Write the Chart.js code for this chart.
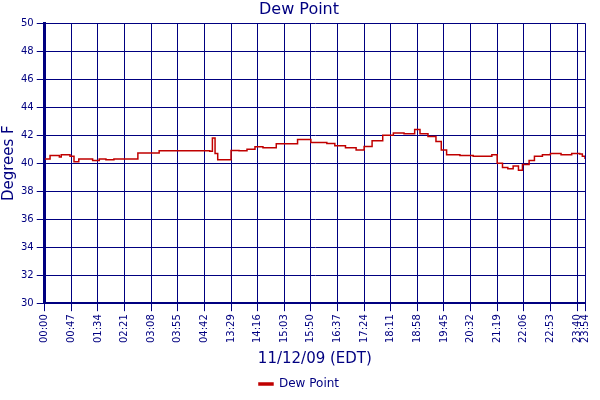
<!DOCTYPE html>
<html><head><meta charset="utf-8">
<script src="https://cdn.jsdelivr.net/npm/chart.js@4"></script>
<style>html,body{margin:0;background:#fff}</style>
</head><body><canvas id="c" width="600" height="400"></canvas>
<script>
const tickLabels=["00:00","00:47","01:34","02:21","03:08","03:55","04:42","13:29","14:16","15:03","15:50","16:37","17:24","18:11","18:58","19:45","20:32","21:19","22:06","22:53","23:40","23:54"];
const tickPos=[0,1,2,3,4,5,6,7,8,9,10,11,12,13,14,15,16,17,18,19,20,20.3];
// x positions in tick-interval units, dew point values in °F
const xPos=[0,0.2,0.55,0.62,0.95,1.1,1.28,1.8,2.05,2.3,2.6,3.5,3.7,4.3,4.6,5.1,6.2,6.3,6.4,6.5,6.9,7.0,7.3,7.6,7.9,8.2,8.7,9.0,9.5,10.0,10.2,10.6,10.9,11.3,11.7,12.0,12.3,12.7,13.1,13.5,13.9,14.1,14.4,14.7,14.9,15.1,15.3,15.6,16.1,16.5,16.8,17.0,17.2,17.4,17.6,17.8,17.95,18.2,18.4,18.7,19.0,19.4,19.8,20.1,20.2,20.3];
const dew=[40.3,40.55,40.45,40.6,40.5,40.1,40.3,40.2,40.3,40.25,40.3,40.72,40.72,40.88,40.88,40.88,40.85,41.8,40.7,40.25,40.25,40.9,40.88,41.0,41.18,41.1,41.38,41.38,41.7,41.47,41.47,41.4,41.25,41.1,40.95,41.2,41.6,42.0,42.15,42.1,42.4,42.1,41.9,41.55,40.95,40.6,40.6,40.55,40.5,40.5,40.6,40.0,39.7,39.6,39.8,39.5,39.9,40.2,40.5,40.6,40.7,40.6,40.7,40.65,40.5,40.3];
new Chart(document.getElementById('c'),{
type:'line',
data:{datasets:[{label:'Dew Point',data:xPos.map((x,i)=>({x,y:dew[i]})),borderColor:'#c00000',backgroundColor:'#c00000',borderWidth:1.5,pointRadius:0,stepped:true}]},
options:{responsive:false,animation:false,
layout:{padding:{right:2}},
plugins:{title:{display:true,text:'Dew Point',color:'#000080',font:{family:'DejaVu Sans',size:16,weight:'normal'},padding:{top:0,bottom:4}},
legend:{position:'bottom',labels:{color:'#000080',font:{family:'DejaVu Sans',size:12},boxWidth:14,boxHeight:2}}},
scales:{
x:{type:'linear',min:0,max:20.3,
afterBuildTicks:a=>{a.ticks=tickPos.map(v=>({value:v}));},
ticks:{autoSkip:false,maxRotation:90,minRotation:90,color:'#000080',font:{family:'DejaVu Sans',size:10},callback:(v,i)=>tickLabels[i]},
grid:{color:'#000080',lineWidth:1},border:{color:'#000080',width:2},
title:{display:true,text:'11/12/09 (EDT)',color:'#000080',font:{family:'DejaVu Sans',size:15},padding:{top:4,bottom:0}}},
y:{min:30,max:50,ticks:{stepSize:2,color:'#000080',font:{family:'DejaVu Sans',size:10}},
grid:{color:'#000080',lineWidth:1},border:{color:'#000080',width:3},
title:{display:true,text:'Degrees F',color:'#000080',font:{family:'DejaVu Sans',size:15},padding:0}}}}
});
</script></body></html>
